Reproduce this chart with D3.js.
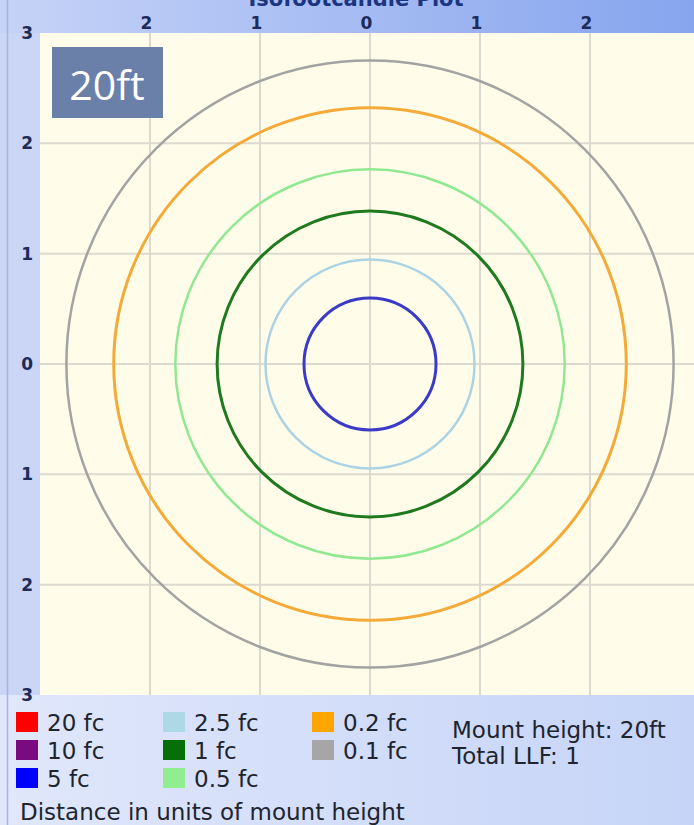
<!DOCTYPE html>
<html>
<head>
<meta charset="utf-8">
<script src="https://cdn.jsdelivr.net/npm/d3@7"></script>
<style>
  body { margin: 0; overflow: hidden; }
  text { font-family: "DejaVu Sans", Verdana, sans-serif; }
</style>
</head>
<body>
<script>
const width = 694;
const height = 825;

// Contour levels (legend order) and colours.
const levels = ["20 fc", "10 fc", "5 fc", "2.5 fc", "1 fc", "0.5 fc", "0.2 fc", "0.1 fc"];
const levelColors = ["#ff0000", "#7a0a80", "#0000ff", "#add8e6", "#067006", "#90ee90", "#ffa500", "#a6a6a6"];
const lineColors = ["#ff0000", "#7a0a80", "#3a3ac8", "#acd3e4", "#1f7a1f", "#92e892", "#f4aa38", "#a3a3a3"];
// Radius of each isofootcandle contour, in units of mount height (null = not reached).
const contourRadius = [null, null, 0.6, 0.95, 1.39, 1.77, 2.33, 2.76];

const topTicks = [-2, -1, 0, 1, 2];
const leftTicks = [-3, -2, -1, 0, 1, 2, 3];
const infoLines = ["Mount height: 20ft", "Total LLF: 1"];

const svg = d3.select("body").append("svg")
  .attr("width", width)
  .attr("height", height);

const defs = svg.append("defs");
const topGrad = defs.append("linearGradient").attr("id", "topGrad");
topGrad.append("stop").attr("offset", "0%").attr("stop-color", "#c6d3f7");
topGrad.append("stop").attr("offset", "100%").attr("stop-color", "#86a5ee");
const botGrad = defs.append("linearGradient").attr("id", "botGrad");
botGrad.append("stop").attr("offset", "0%").attr("stop-color", "#e0e7fb");
botGrad.append("stop").attr("offset", "100%").attr("stop-color", "#c6d4f7");

// Frame background.
svg.append("rect").attr("width", width).attr("height", height).attr("fill", "url(#botGrad)");
svg.append("rect").attr("width", width).attr("height", 33).attr("fill", "url(#topGrad)");
svg.append("rect").attr("x", 0).attr("y", 33).attr("width", 40).attr("height", 662).attr("fill", "#cbd5f6");
svg.append("line")
  .attr("x1", 7.5).attr("x2", 7.5).attr("y1", 0).attr("y2", height)
  .attr("stroke", "#a3b3e2").attr("stroke-width", 1.5);

// Scales: distance in units of mount height.
const x = d3.scaleLinear().domain([-3, 3]).range([40, 700]);
const y = d3.scaleLinear().domain([-3, 3]).range([33, 695]);

// Plot area.
svg.append("rect")
  .attr("x", x(-3)).attr("y", y(-3))
  .attr("width", x(3) - x(-3)).attr("height", y(3) - y(-3))
  .attr("fill", "#fffdea");

const plot = svg.append("g");

// Grid lines.
plot.selectAll(".vgrid")
  .data(leftTicks.slice(1, -1))
  .enter().append("line")
  .attr("x1", d => x(d)).attr("x2", d => x(d))
  .attr("y1", y(-3)).attr("y2", y(3))
  .attr("stroke", "#dcd9cf").attr("stroke-width", 2);

plot.selectAll(".hgrid")
  .data(leftTicks.slice(1, -1))
  .enter().append("line")
  .attr("x1", x(-3)).attr("x2", x(3))
  .attr("y1", d => y(d)).attr("y2", d => y(d))
  .attr("stroke", "#dcd9cf").attr("stroke-width", 2);

// Isofootcandle contours.
const contours = levels.map((name, i) => ({ name, r: contourRadius[i], color: lineColors[i] }))
  .filter(d => d.r !== null);

plot.selectAll(".contour")
  .data(contours)
  .enter().append("circle")
  .attr("class", "contour")
  .attr("cx", x(0)).attr("cy", y(0))
  .attr("r", d => x(d.r) - x(0))
  .attr("fill", "none")
  .attr("stroke", d => d.color)
  .attr("stroke-width", d => (d.name === "5 fc" || d.name === "1 fc" || d.name === "0.2 fc") ? 3 : 2.5);

// Title, cut off by the top edge as in the original screenshot.
svg.append("text")
  .attr("x", 356).attr("y", 6)
  .attr("text-anchor", "middle")
  .style("font-size", "21px").style("font-weight", "bold")
  .style("fill", "#1c3580")
  .text("Isofootcandle Plot");

// Top axis: absolute distances.
const topAxis = svg.append("g")
  .attr("transform", `translate(-4,29)`)
  .call(d3.axisTop(x).tickValues(topTicks).tickSize(0).tickFormat(d => Math.abs(d)));
topAxis.select(".domain").remove();
topAxis.selectAll("text")
  .attr("y", 0).attr("dy", 0)
  .style("font-size", "17px").style("font-weight", "bold")
  .style("font-family", "DejaVu Sans, sans-serif")
  .style("fill", "#1d2b5a");

// Left axis.
const leftAxis = svg.append("g")
  .attr("transform", `translate(35,0)`)
  .call(d3.axisLeft(y).tickValues(leftTicks).tickSize(0).tickFormat(d => Math.abs(d)));
leftAxis.select(".domain").remove();
leftAxis.selectAll("text")
  .attr("x", -2)
  .style("font-size", "17px").style("font-weight", "bold")
  .style("font-family", "DejaVu Sans, sans-serif")
  .style("fill", "#1d2b5a");

// Mount height badge.
svg.append("rect")
  .attr("x", 52).attr("y", 47).attr("width", 111).attr("height", 71)
  .attr("fill", "#6a80a9");
svg.append("text")
  .attr("x", 107).attr("y", 100)
  .attr("text-anchor", "middle")
  .style("font-family", "'Open Sans', 'DejaVu Sans', sans-serif")
  .style("font-size", "41px")
  .style("fill", "#ffffff")
  .text("20ft");

// Legend.
const legendColX = [16, 163, 312];
const legend = svg.selectAll(".legend")
  .data(levels)
  .enter().append("g")
  .attr("class", "legend")
  .attr("transform", (d, i) => `translate(${legendColX[Math.floor(i / 3)]},${712 + (i % 3) * 28})`);

legend.append("rect")
  .attr("width", 22).attr("height", 20)
  .attr("fill", (d, i) => levelColors[i]);

legend.append("text")
  .attr("x", 31).attr("y", 19)
  .style("font-size", "23px")
  .style("fill", "#20242e")
  .text(d => d);

svg.selectAll(".info")
  .data(infoLines)
  .enter().append("text")
  .attr("x", 452).attr("y", (d, i) => 738 + i * 26)
  .style("font-size", "23px")
  .style("fill", "#20242e")
  .text(d => d);

svg.append("text")
  .attr("x", 20).attr("y", 820)
  .style("font-size", "23px")
  .style("fill", "#20242e")
  .text("Distance in units of mount height");
</script>
</body>
</html>
